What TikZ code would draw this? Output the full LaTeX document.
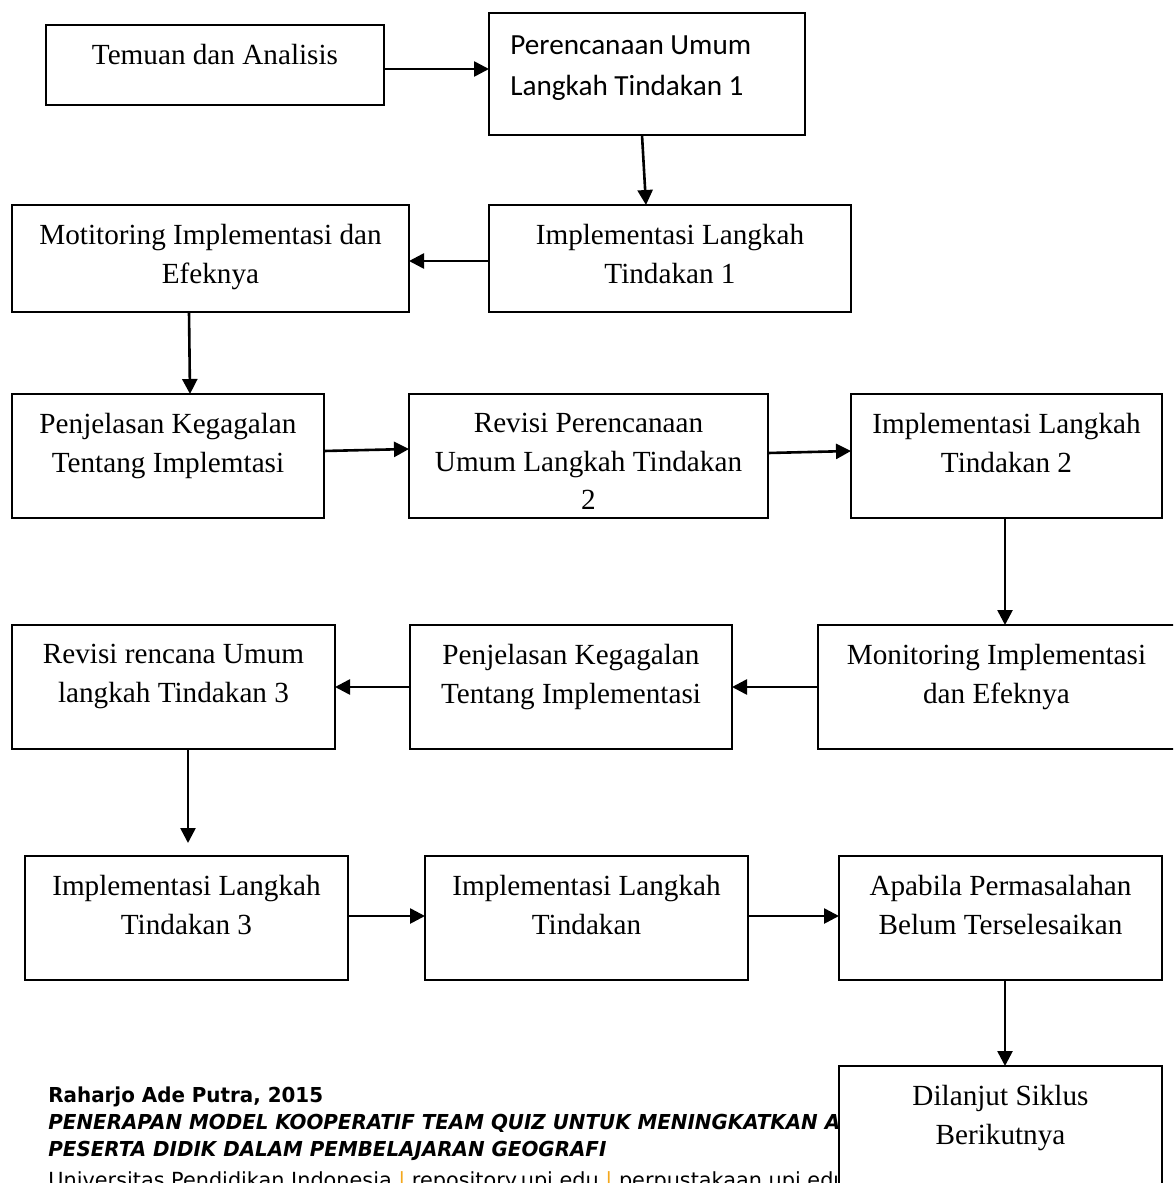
\documentclass[tikz,border=0pt]{standalone}
\usepackage{fontspec}
\setmainfont{Liberation Serif}
\newfontfamily\calfont{Carlito}
\newfontfamily\footfont[FakeStretch=0.965]{DejaVu Sans}
\newfontfamily\footregfont{DejaVu Sans}
\usetikzlibrary{arrows.meta}
\definecolor{sepbar}{HTML}{F4A81D}

\tikzset{
  stepbox/.style={draw, line width=0.8pt, fill=white, outer sep=0pt},
  sz/.style 2 args={minimum width=#1*0.5pt, minimum height=#2*0.5pt},
  boxtext/.style={anchor=north, inner sep=0pt, align=center, yshift=-9.5pt,
    font=\fontsize{14.6pt}{19.3pt}\selectfont},
  flow/.style={-{Triangle[length=7.5pt,width=7.5pt]}, line width=1.3pt},
  foot/.style={anchor=base west, inner sep=0pt, font=\footfont\fontsize{10.3pt}{13pt}\selectfont}
}

\begin{document}
\begin{tikzpicture}[x=0.5pt, y=-0.5pt]
    \useasboundingbox (0,0) rectangle (1173,1183);
    \clip (0,0) rectangle (1173,1183);
    % footer of the page
    \node[foot] (ft1) at (48,1102) {\bfseries Raharjo Ade Putra, 2015};
    \node[foot] (ft2) at (48,1129) {\bfseries\itshape PENERAPAN MODEL KOOPERATIF TEAM QUIZ UNTUK MENINGKATKAN A};
    \node[foot] (ft3) at (48,1156) {\bfseries\itshape PESERTA DIDIK DALAM PEMBELAJARAN GEOGRAFI};
    \node[foot, font=\footregfont\fontsize{10.4pt}{13pt}\selectfont] (ft4) at (48,1187)
      {Universitas Pendidikan Indonesia {\color{sepbar}|} repository.upi.edu {\color{sepbar}|} perpustakaan.upi.edu};
    % boxes
    \node[stepbox, sz={338}{80}, label={[boxtext]north:Temuan dan Analisis}] (temuan) at (215,65) {};
    \node[stepbox, sz={316}{122}, label={[boxtext, anchor=north west, align=left, xshift=10.5pt, yshift=-1.5pt,
      font=\calfont\fontsize{14.6pt}{20.5pt}\selectfont]north west:Perencanaan Umum\\Langkah Tindakan 1}] (rencana1) at (647,74) {};
    \node[stepbox, sz={362}{107}, label={[boxtext]north:Implementasi Langkah\\Tindakan 1}] (impl1) at (670,258.5) {};
    \node[stepbox, sz={397}{107}, label={[boxtext]north:Motitoring Implementasi dan\\Efeknya}] (monitor1) at (210.5,258.5) {};
    \node[stepbox, sz={312}{124}, label={[boxtext]north:Penjelasan Kegagalan\\Tentang Implemtasi}] (gagal1) at (168,456) {};
    \node[stepbox, sz={359}{124}, label={[boxtext]north:Revisi Perencanaan\\Umum Langkah Tindakan\\2}] (revisi2) at (588.5,456) {};
    \node[stepbox, sz={311}{124}, label={[boxtext]north:Implementasi Langkah\\Tindakan 2}] (impl2) at (1006.5,456) {};
    \node[stepbox, sz={357}{124}, label={[boxtext]north:Monitoring Implementasi\\dan Efeknya}] (monitor2) at (996.5,687) {};
    \node[stepbox, sz={322}{124}, label={[boxtext]north:Penjelasan Kegagalan\\Tentang Implementasi}] (gagal2) at (571,687) {};
    \node[stepbox, sz={323}{124}, label={[boxtext]north:Revisi rencana Umum\\langkah Tindakan 3}] (revisi3) at (173.5,687) {};
    \node[stepbox, sz={323}{124}, label={[boxtext]north:Implementasi Langkah\\Tindakan 3}] (impl3) at (186.5,918) {};
    \node[stepbox, sz={323}{124}, label={[boxtext]north:Implementasi Langkah\\Tindakan}] (impl4) at (586.5,918) {};
    \node[stepbox, sz={323}{124}, label={[boxtext]north:Apabila Permasalahan\\Belum Terselesaikan}] (belum) at (1000.5,918) {};
    \node[stepbox, sz={323}{124}, label={[boxtext]north:Dilanjut Siklus\\Berikutnya}] (lanjut) at (1000.5,1128) {};
    % arrows
    \draw[flow] ([yshift=-2pt]temuan.east) -- ([yshift=-2pt]temuan.east -| rencana1.west);
    \draw[flow] ([xshift=-2.5pt]rencana1.south) -- ([xshift=-12pt]impl1.north);
    \draw[flow] ([yshift=-1.25pt]impl1.west) -- ([yshift=-1.25pt]monitor1.east);
    \draw[flow] ([xshift=-10.75pt]monitor1.south) -- ([xshift=11pt]gagal1.north);
    \draw[flow] ([yshift=2.5pt]gagal1.east) -- ([yshift=3.5pt]revisi2.west);
    \draw[flow] ([yshift=1.5pt]revisi2.east) -- ([yshift=2.5pt]impl2.west);
    \draw[flow] ([xshift=-0.75pt]impl2.south) -- ([xshift=-0.75pt]impl2.south |- monitor2.north);
    \draw[flow] (monitor2.west) -- (gagal2.east); \draw[flow] (gagal2.west) -- (revisi3.east);
    \draw[flow, shorten >=6.5pt] ([xshift=7.25pt]revisi3.south) -- ([xshift=7.25pt]revisi3.south |- impl3.north);
    \draw[flow] ([yshift=1pt]impl3.east) -- ([yshift=1pt]impl4.west);
    \draw[flow] ([yshift=1pt]impl4.east) -- ([yshift=1pt]belum.west);
    \draw[flow] ([xshift=2.25pt]belum.south) -- ([xshift=2.25pt]lanjut.north);
\end{tikzpicture}
\end{document}
